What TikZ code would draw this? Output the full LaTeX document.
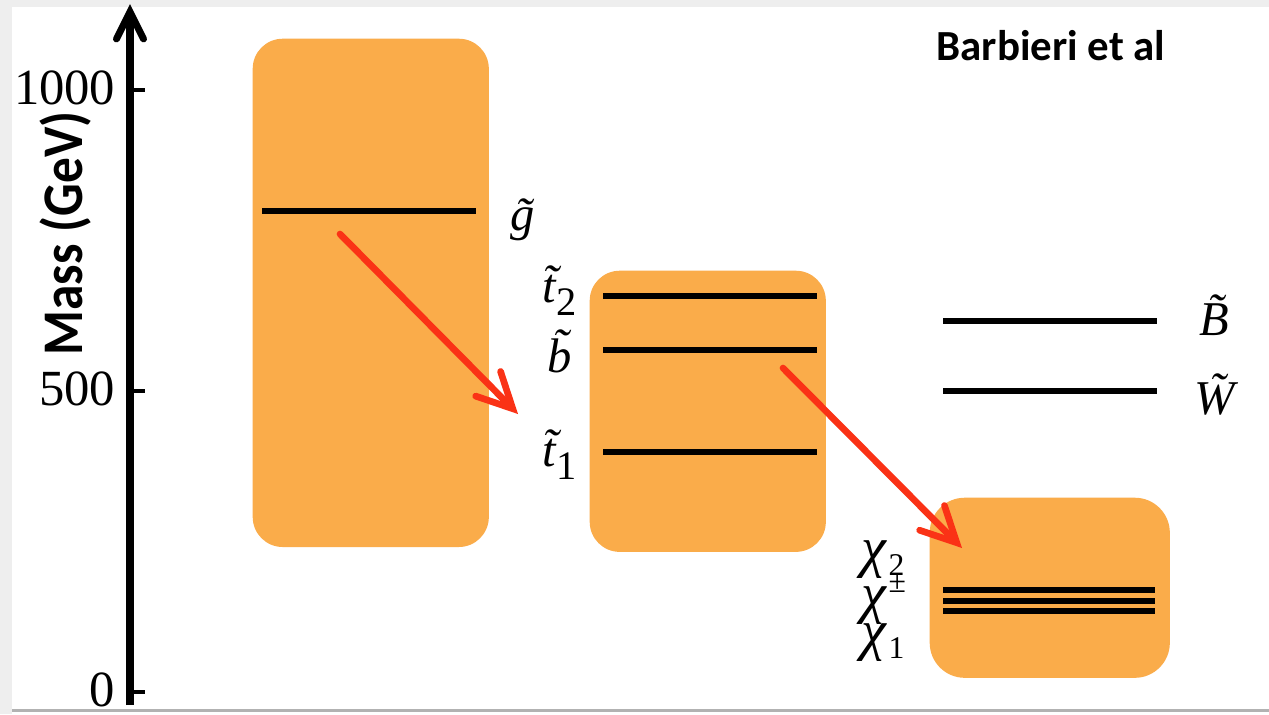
\documentclass[tikz,border=0pt]{standalone}
\usepackage{fontspec}
\setmainfont{Liberation Serif}
\newfontfamily\headsans{Carlito}
\usetikzlibrary{arrows.meta}
\definecolor{bandfill}{RGB}{250,172,74}
\definecolor{decayred}{RGB}{250,50,22}
\definecolor{framegray}{RGB}{238,238,238}
\newcommand\sparticle[1]{{\itshape\~{#1}}}
\newcommand\lowsub[1]{\raisebox{-0.28em}{\fontsize{11.5}{11.5}\selectfont #1}}
\newcommand\chiidx[2]{{\fontsize{16}{16}\selectfont\itshape χ}\kern0.6pt\raisebox{#1}{\fontsize{9}{9}\selectfont #2}}
\begin{document}
\begin{tikzpicture}[x=0.01cm,y=-0.01cm,
  bandbox/.style={fill=bandfill,draw=none,rounded corners=0.3cm},
  level/.style={line width=1.75pt,black},
  decay/.style={decayred,line width=1.9pt,line cap=round,
    -{Straight Barb[length=3.5mm,width=3.5mm,line cap=round]}},
  massaxis/.style={line width=2pt,black,
    -{Straight Barb[length=2.7mm,width=2.7mm,line cap=round]}},
  tickmark/.style={line width=1.1pt,black},
  ticklabel/.style={anchor=base east,inner sep=0pt,font=\fontsize{14.4}{14.4}\selectfont},
  statelabel/.style={anchor=base west,inner sep=0pt,font=\fontsize{13.8}{13.8}\selectfont},
  headlabel/.style={inner sep=0pt,font=\headsans\bfseries\fontsize{12.2}{12.2}\selectfont}]

% canvas and its thin grey frame
\useasboundingbox (0,0) rectangle (1269,714);
\fill[white] (0,0) rectangle (1269,714);
\fill[framegray] (0,0) rectangle (1269,7);
\fill[framegray] (0,0) rectangle (12,714);
\fill[gray!60] (12,709) rectangle (1269,712);

% mass axis
\coordinate (axbot) at (130,705);
\coordinate (axtop) at (130,4);
\draw[massaxis] (axbot) -- (axtop);
\foreach \yy/\lab/\nm in {90/1000/t1000,391/500/t500,692/0/t0}{
  \coordinate (\nm) at (130,\yy);
  \draw[tickmark] (\nm) -- ++(15,0);
  \node[ticklabel] (\nm l) at (116,\yy+14) {\lab};
}
\node[headlabel,rotate=90,anchor=base west,font=\headsans\bfseries\fontsize{14.6}{14.6}\selectfont]
  (ylab) at (83,356) {\scalebox{1}[1.12]{Mass (GeV)}};
\node[headlabel,anchor=base west] (cite) at (936,60) {Barbieri et al};

% mass bands
\node[bandbox,minimum width=2.36cm,minimum height=5.08cm,anchor=north west] (glu) at (252,38) {};
\node[bandbox,minimum width=2.36cm,minimum height=2.81cm,anchor=north west] (sq) at (589,270) {};
\node[bandbox,minimum width=2.40cm,minimum height=1.80cm,anchor=north west,rounded corners=0.35cm] (ew) at (929,497) {};

% levels
\coordinate (gA) at (262,211);  \coordinate (gB) at (476,211);
\coordinate (t2A) at (603,296); \coordinate (t2B) at (817,296);
\coordinate (bA) at (603,350);  \coordinate (bB) at (817,350);
\coordinate (t1A) at (603,452); \coordinate (t1B) at (817,452);
\coordinate (BA) at (943,321);  \coordinate (BB) at (1157,321);
\coordinate (WA) at (943,391);  \coordinate (WB) at (1157,391);
\coordinate (c2A) at (943,590); \coordinate (c2B) at (1155,590);
\coordinate (cpA) at (943,601); \coordinate (cpB) at (1155,601);
\coordinate (c1A) at (943,611); \coordinate (c1B) at (1155,611);
\foreach \a/\b in {gA/gB,t2A/t2B,bA/bB,t1A/t1B,BA/BB,WA/WB,c2A/c2B,cpA/cpB,c1A/c1B}
  \draw[level] (\a) -- (\b);

% state labels
\node[statelabel] (lg)  at (510,230) {\sparticle{g}};
\node[statelabel] (lt2) at (542,302) {\sparticle{t}\lowsub{2}};
\node[statelabel] (lb)  at (547,372) {\sparticle{b}};
\node[statelabel] (lt1) at (542,466) {\sparticle{t}\lowsub{1}};
\node[statelabel] (lB)  at (1199,335) {\sparticle{B}};
\node[statelabel] (lW)  at (1194,414) {\sparticle{W}};
\node[statelabel] (lc2) at (861,566) {\chiidx{-2.6pt}{2}};
\node[statelabel] (lcp) at (861,612) {\chiidx{5.6pt}{±}};
\node[statelabel] (lc1) at (861,649) {\chiidx{-2.6pt}{1}};

% decay arrows
\coordinate (d1s) at (340,234); \coordinate (d1e) at (518,414);
\coordinate (d2s) at (783,368); \coordinate (d2e) at (962,548);
\draw[decay] (d1s) -- (d1e);
\draw[decay] (d2s) -- (d2e);
\end{tikzpicture}
\end{document}
